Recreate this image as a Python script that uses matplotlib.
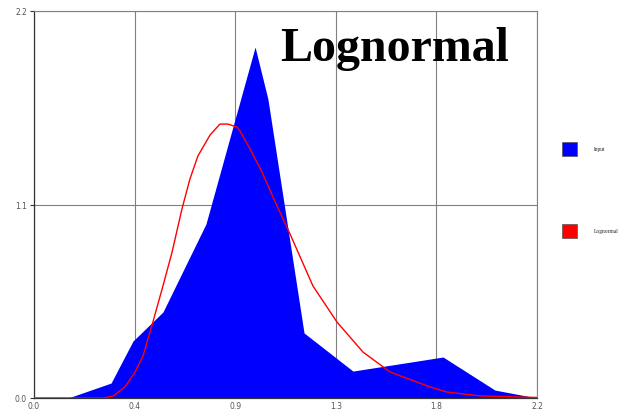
import matplotlib
matplotlib.use("Agg")
import matplotlib.pyplot as plt
from matplotlib.patches import Rectangle

# Empirical density of the input data (polygon vertices)
input_x = [0.149, 0.337, 0.433, 0.564, 0.752, 0.967, 1.023, 1.181, 1.395, 1.789, 2.016, 2.2]
input_y = [0.0, 0.085, 0.324, 0.489, 0.989, 1.995, 1.70, 0.370, 0.153, 0.233, 0.045, 0.0]

# Fitted lognormal density
logn_x = [0.0, 0.30, 0.346, 0.398, 0.442, 0.477, 0.520, 0.564, 0.604, 0.647, 0.682, 0.717,
          0.770, 0.813, 0.849, 0.888, 0.901, 0.945, 0.997, 1.045, 1.120, 1.220, 1.325,
          1.439, 1.557, 1.732, 1.806, 1.951, 2.2]
logn_y = [0.0, 0.0, 0.011, 0.063, 0.148, 0.239, 0.432, 0.637, 0.830, 1.074, 1.245, 1.376,
          1.495, 1.557, 1.557, 1.540, 1.518, 1.415, 1.285, 1.143, 0.932, 0.637, 0.432,
          0.261, 0.148, 0.063, 0.034, 0.012, 0.003]

x_ticks = [0.0, 0.44, 0.88, 1.32, 1.76, 2.2]
x_labels = ["0.0", "0.4", "0.9", "1.3", "1.8", "2.2"]
y_ticks = [0.0, 1.1, 2.2]
y_labels = ["0.0", "1.1", "2.2"]
legend_labels = ["Input", "Lognormal"]
title = "Lognormal"

fig = plt.figure(figsize=(6.25, 4.14), dpi=100)
ax = fig.add_axes([34 / 625, 15 / 414, 503 / 625, 387 / 414])

ax.fill_between(input_x, input_y, 0, color="#0000ff", linewidth=0, zorder=2)
ax.plot(logn_x, logn_y, color="#ff0000", linewidth=1.0, zorder=3)

ax.set_xlim(0, 2.2)
ax.set_ylim(0, 2.2)
ax.set_xticks(x_ticks)
ax.set_xticklabels(x_labels)
ax.set_yticks(y_ticks)
ax.set_yticklabels(y_labels)
ax.tick_params(axis="both", labelsize=5.5, labelcolor="#555555", color="#333333",
               length=3, width=0.8, pad=2)
ax.tick_params(axis="x", length=0)
ax.grid(True, color="#808080", linewidth=0.8, zorder=1)
ax.set_axisbelow(True)
for side in ("left", "bottom"):
    ax.spines[side].set_color("#333333")
    ax.spines[side].set_linewidth(0.9)
for side in ("top", "right"):
    ax.spines[side].set_color("#808080")
    ax.spines[side].set_linewidth(0.8)

ax.text(0.716, 0.905, title, transform=ax.transAxes, ha="center", va="center",
        fontsize=34.5, fontweight="bold", family="Liberation Serif", color="black")

# Legend swatches and labels drawn in figure coordinates
swatch_colors = ["#0000ff", "#ff0000"]
swatch_y = [150, 232]
for lbl, col, py in zip(legend_labels, swatch_colors, swatch_y):
    fig.patches.append(Rectangle((562 / 625, 1 - (py + 7) / 414), 15 / 625, 14 / 414,
                                 transform=fig.transFigure, facecolor=col,
                                 edgecolor="#555555", linewidth=0.5))
    fig.text(594 / 625, 1 - py / 414, lbl, fontsize=4, family="Liberation Serif",
             va="center", ha="left", color="#222222")

fig.savefig("out.png", dpi=100)
